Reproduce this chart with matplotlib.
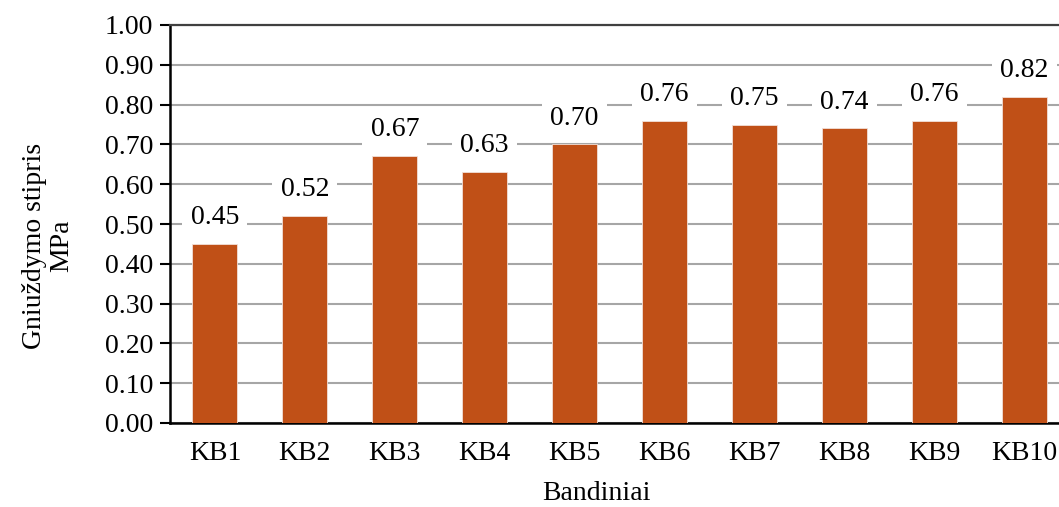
import matplotlib.pyplot as plt
import numpy as np

samples = ["KB1", "KB2", "KB3", "KB4", "KB5", "KB6", "KB7", "KB8", "KB9", "KB10"]
strength = [0.45, 0.52, 0.67, 0.63, 0.70, 0.76, 0.75, 0.74, 0.76, 0.82]

plt.rcParams['font.family'] = ['Liberation Serif', 'DejaVu Serif']

W, H = 1059, 507
fig = plt.figure(figsize=(W / 100, H / 100), dpi=100)
# plot area runs past the right edge, as in the reference
left, right, bottom, top = 170, 1069, 423, 25
ax = fig.add_axes([left / W, (H - bottom) / H, (right - left) / W, (bottom - top) / H])

x = np.arange(len(samples))
ax.bar(x, strength, width=0.5, color="#C05017", edgecolor="#F2E0D8", linewidth=0.6, zorder=3)

for xi, v in zip(x, strength):
    ax.annotate("%.2f" % v, (xi, v), xytext=(0, 19), textcoords="offset points",
                ha="center", va="center", fontsize=20, zorder=4,
                bbox=dict(boxstyle="square,pad=0.3", fc="white", ec="none"))

ax.set_xlim(-0.5, 9.5)
ax.set_ylim(0, 1.0)
ticks = np.arange(0, 1.01, 0.1)
ax.set_yticks(ticks)
ax.set_yticklabels(["%.2f" % t for t in ticks])
ax.set_xticks(x)
ax.set_xticklabels(samples)
ax.tick_params(axis="y", direction="out", length=7, width=1.5, labelsize=20, pad=5)
ax.tick_params(axis="x", length=0, labelsize=20, pad=13)

ax.yaxis.grid(True, color="#A6A6A6", linewidth=1.5, zorder=0)
ax.set_axisbelow(True)

for s in ["left", "bottom"]:
    ax.spines[s].set_linewidth(1.8)
    ax.spines[s].set_color("black")
ax.spines["top"].set_linewidth(1.6)
ax.spines["top"].set_color("#404040")
ax.spines["right"].set_visible(False)

fig.text(48 / W, (H - 246) / H, "Gniuždymo stipris\nMPa", rotation=90,
         ha="center", va="center", fontsize=20, linespacing=1.1, multialignment="center")
fig.text(596 / W, (H - 494) / H, "Bandiniai", ha="center", va="center", fontsize=20)

plt.savefig("out.png", dpi=100)
